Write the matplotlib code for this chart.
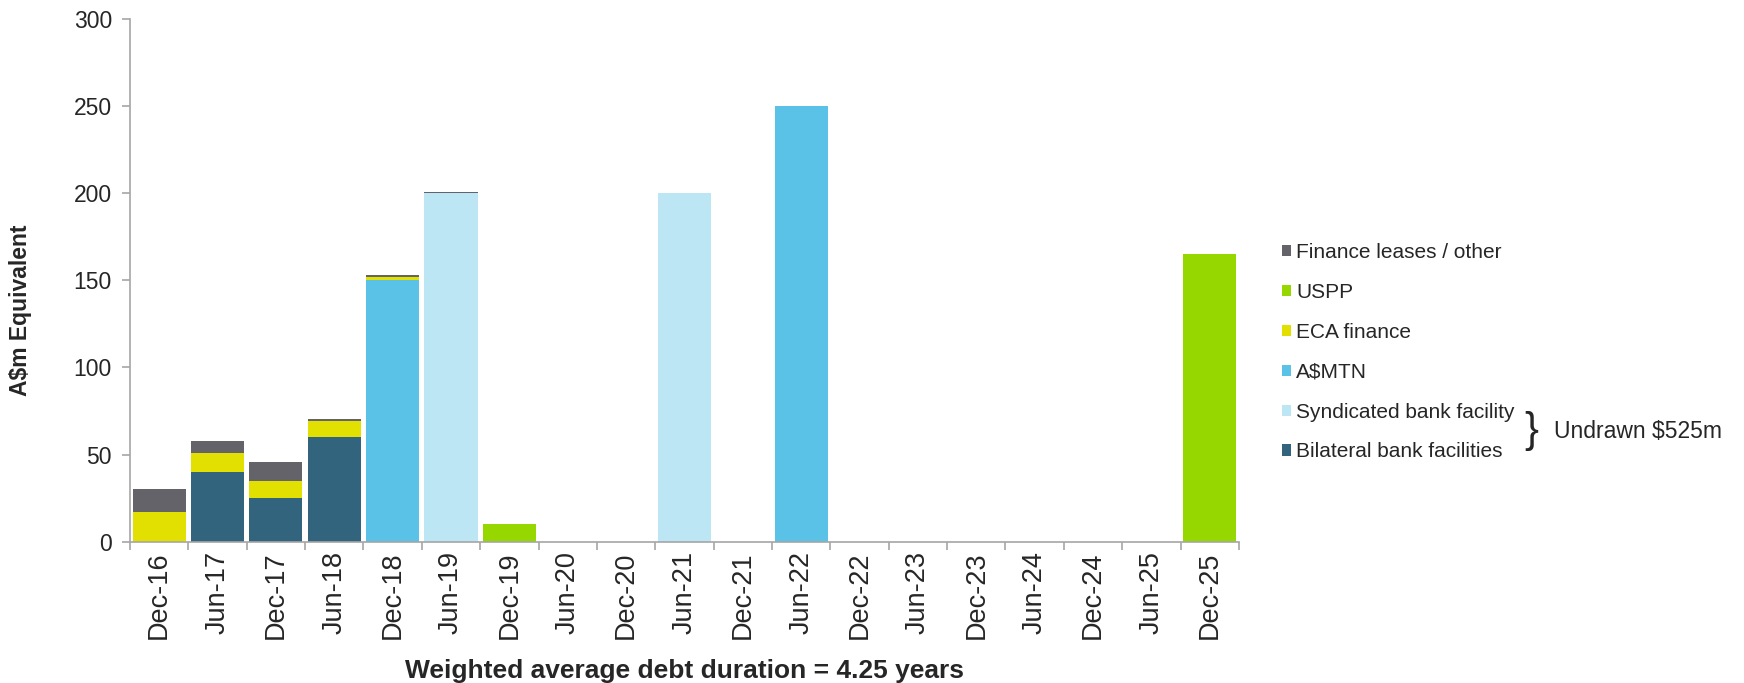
import numpy as np
import matplotlib
matplotlib.use('Agg')
import matplotlib.pyplot as plt

plt.rcParams['font.family'] = ['Liberation Sans', 'DejaVu Sans']

# Maturity profile, A$m equivalent
periods = ['Dec-16', 'Jun-17', 'Dec-17', 'Jun-18', 'Dec-18', 'Jun-19', 'Dec-19',
           'Jun-20', 'Dec-20', 'Jun-21', 'Dec-21', 'Jun-22', 'Dec-22', 'Jun-23',
           'Dec-23', 'Jun-24', 'Dec-24', 'Jun-25', 'Dec-25']
bilateral  = [0, 40, 25, 60, 0, 0, 0, 0, 0, 0, 0, 0, 0, 0, 0, 0, 0, 0, 0]
syndicated = [0, 0, 0, 0, 0, 200, 0, 0, 0, 200, 0, 0, 0, 0, 0, 0, 0, 0, 0]
amtn       = [0, 0, 0, 0, 150, 0, 0, 0, 0, 0, 0, 250, 0, 0, 0, 0, 0, 0, 0]
eca        = [17, 11, 10, 9, 2, 0, 0, 0, 0, 0, 0, 0, 0, 0, 0, 0, 0, 0, 0]
uspp       = [0, 0, 0, 0, 0, 0, 10, 0, 0, 0, 0, 0, 0, 0, 0, 0, 0, 0, 165]
finance    = [13, 6.5, 11, 1.3, 1, 0.6, 0, 0, 0, 0, 0, 0, 0, 0, 0, 0, 0, 0, 0]

series = [
    ('Bilateral bank facilities', bilateral, '#33647E'),
    ('Syndicated bank facility', syndicated, '#BDE6F4'),
    ('A$MTN', amtn, '#5BC2E7'),
    ('ECA finance', eca, '#E1E000'),
    ('USPP', uspp, '#97D700'),
    ('Finance leases / other', finance, '#636369'),
]

txt = '#262626'
axc = '#A6A6A6'

fig = plt.figure(figsize=(17.44, 6.83), dpi=100)
ax = fig.add_axes([0.0745, 0.207, 0.6359, 0.765])

x = np.arange(len(periods))
bottom = np.zeros(len(periods))
handles = []
for name, vals, col in series:
    vals = np.array(vals, dtype=float)
    b = ax.bar(x, vals, width=0.91, bottom=bottom, color=col, label=name, linewidth=0)
    handles.append(b)
    bottom += vals

ax.set_xlim(-0.5, len(periods) - 0.5)
ax.set_ylim(0, 300)
ax.set_yticks(np.arange(0, 301, 50))
ax.set_xticks(x)
ax.set_xticklabels(periods, rotation=90, fontsize=19.5, color=txt)
ax.set_xticks(np.arange(-0.5, len(periods)), minor=True)
ax.tick_params(axis='x', which='major', length=0, pad=7)
ax.tick_params(axis='x', which='minor', length=6, color=axc, width=1.2)
ax.tick_params(axis='y', length=6, color=axc, width=1.2, pad=7, labelsize=16.5, labelcolor=txt)

for s in ['top', 'right']:
    ax.spines[s].set_visible(False)
for s in ['left', 'bottom']:
    ax.spines[s].set_color(axc)
    ax.spines[s].set_linewidth(1.2)

fig.text(20 / 1744, 1 - 310 / 683, 'A$m Equivalent', rotation=90, ha='center', va='center',
         fontsize=16.5, fontweight='bold', color=txt)
fig.text(0.3925, 0.018, 'Weighted average debt duration = 4.25 years', ha='center', va='center',
         fontsize=19, fontweight='bold', color=txt)

leg = ax.legend(handles=handles[::-1], loc='upper left', bbox_to_anchor=(1.031, 0.587),
                frameon=False, fontsize=15, handlelength=0.45, handleheight=0.45,
                handletextpad=0.25, labelspacing=1.0, borderaxespad=0)
for t in leg.get_texts():
    t.set_color(txt)

fig.text(1524 / 1744, 1 - 431 / 683, '}', ha='left', va='center', fontsize=30, color=txt)
fig.text(1554 / 1744, 1 - 431.5 / 683, 'Undrawn $525m', ha='left', va='center', fontsize=16.5, color=txt)

fig.savefig('out.png', dpi=100)
